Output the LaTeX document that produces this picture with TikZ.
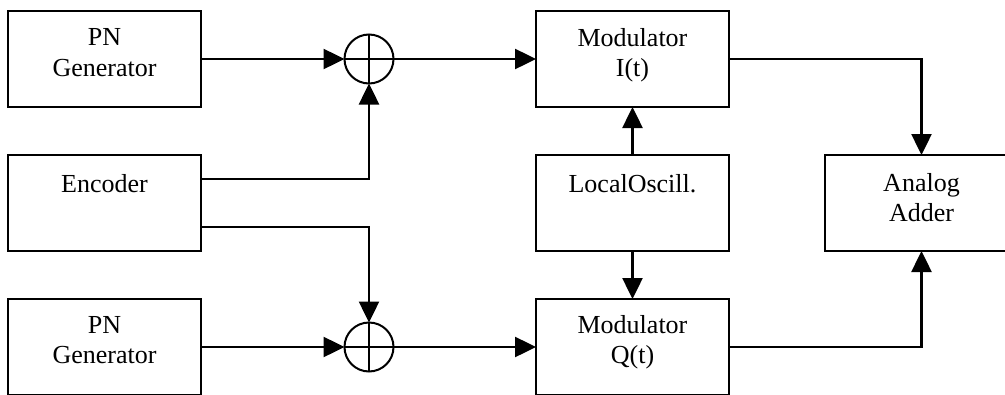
\documentclass[tikz,border=0pt]{standalone}
\usepackage{fontspec}
\setmainfont{Liberation Serif}
\usetikzlibrary{arrows.meta,calc}
\begin{document}
\begin{tikzpicture}[x=1pt,y=1pt,
  blockbox/.style={draw=black, line width=2pt, minimum width=193pt, minimum height=96pt, inner sep=0pt, outer sep=0pt},
  xorcirc/.style={draw=black, line width=2pt, circle, minimum size=49pt, inner sep=0pt, outer sep=0pt},
  lbl/.style={anchor=north, inner sep=0pt, align=center, font=\fontsize{26}{30.5}\selectfont},
  conn/.style={line width=2.5pt, -{Triangle[length=21pt,width=20pt]}}
]
\useasboundingbox (0,0) rectangle (1005,-394);
\clip (0,0) rectangle (1005,-394);
\fill[white] (0,0) rectangle (1005,-394);

% blocks
\node[blockbox] (pn1) at (104.5,-59) {};
\node[blockbox] (enc) at (104.5,-203) {};
\node[blockbox] (pn2) at (104.5,-347) {};
\node[blockbox] (modi) at (632.5,-59) {};
\node[blockbox] (lo) at (632.5,-203) {};
\node[blockbox] (modq) at (632.5,-347) {};
\node[blockbox] (add) at (921.5,-203) {};

% texts
\node[lbl] (t1) at ([yshift=-14.5pt]pn1.north) {\rule{0pt}{20pt}PN\\Generator};
\node[lbl] (t2) at ([yshift=-17pt]enc.north) {\rule{0pt}{20pt}Encoder};
\node[lbl] (t3) at ([yshift=-14pt]pn2.north) {\rule{0pt}{20pt}PN\\Generator};
\node[lbl] (t4) at ([yshift=-15pt]modi.north) {\rule{0pt}{20pt}Modulator\\I(t)};
\node[lbl] (t5) at ([yshift=-17pt]lo.north) {\rule{0pt}{20pt}LocalOscill.};
\node[lbl] (t6) at ([yshift=-14pt]modq.north) {\rule{0pt}{20pt}Modulator\\Q(t)};
\node[lbl] (t7) at ([yshift=-16pt]add.north) {\rule{0pt}{20pt}Analog\\Adder};

% xor circles
\node[xorcirc] (x1) at (369,-59) {};
\node[xorcirc] (x2) at (369,-347) {};
\draw[line width=2pt] (x1.north) -- (x1.south) (x1.west) -- (x1.east);
\draw[line width=2pt] (x2.north) -- (x2.south) (x2.west) -- (x2.east);

% coordinates
\coordinate (e1) at ($(enc.east)+(0,24)$);
\coordinate (e2) at ($(enc.east)+(0,-24)$);

% connectors
\draw[conn] (pn1.east) -- (x1.west);
\draw[conn] (pn2.east) -- (x2.west);
\draw[conn] (e1) -| (x1.south);
\draw[conn] (e2) -| (x2.north);
\draw[conn] (x1.east) -- (modi.west);
\draw[conn] (x2.east) -- (modq.west);
\draw[conn] (lo.north) -- (modi.south);
\draw[conn] (lo.south) -- (modq.north);
\draw[conn] (modi.east) -| (add.north);
\draw[conn] (modq.east) -| (add.south);
\end{tikzpicture}
\end{document}
